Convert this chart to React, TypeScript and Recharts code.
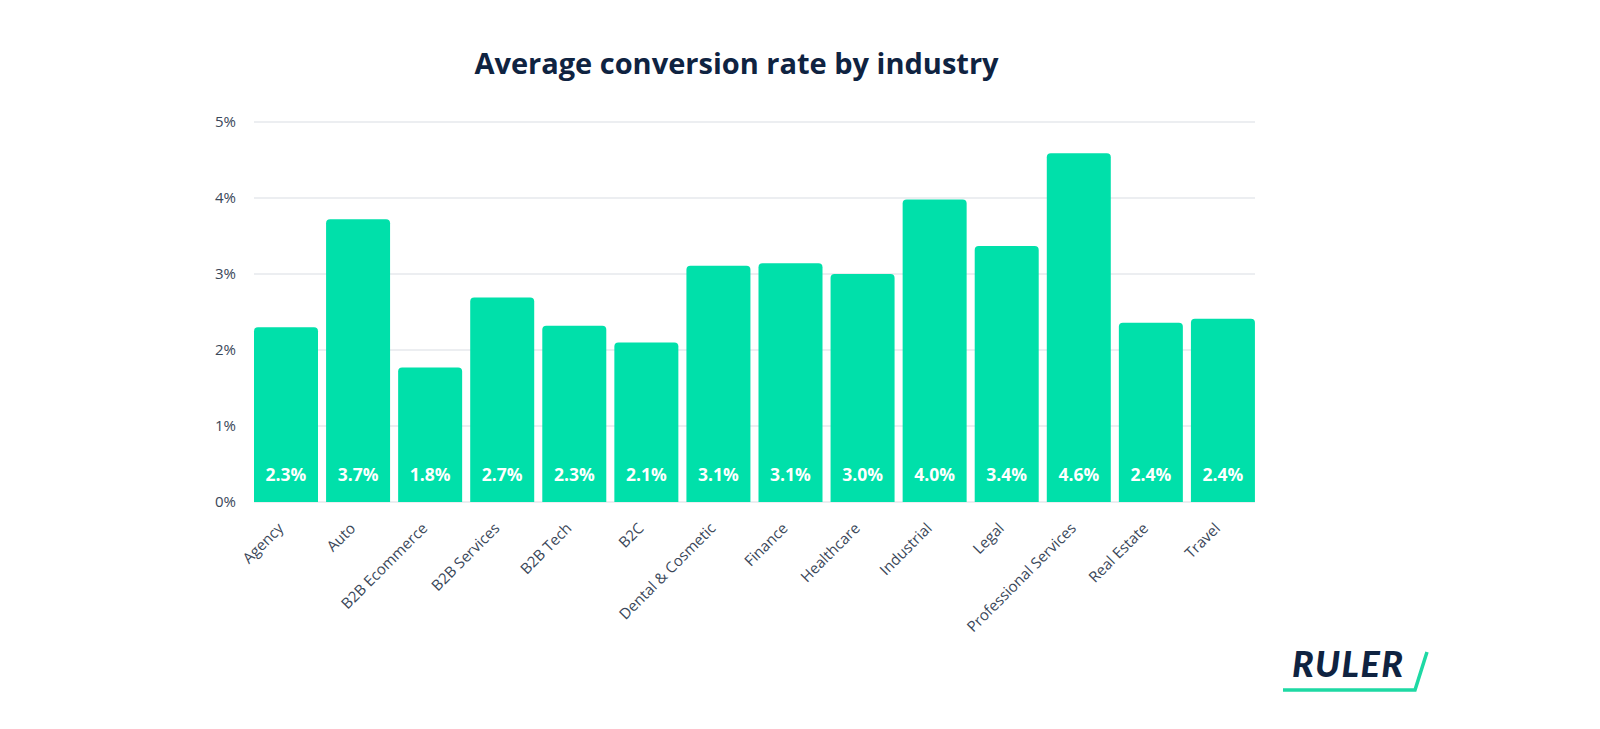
import React from 'react';
import { BarChart, Bar, XAxis, YAxis, CartesianGrid, LabelList } from 'recharts';

const industries = [
  'Agency',
  'Auto',
  'B2B Ecommerce',
  'B2B Services',
  'B2B Tech',
  'B2C',
  'Dental & Cosmetic',
  'Finance',
  'Healthcare',
  'Industrial',
  'Legal',
  'Professional Services',
  'Real Estate',
  'Travel',
];

// conversion rate in %
const rates = [2.3, 3.72, 1.77, 2.69, 2.32, 2.1, 3.11, 3.14, 3.0, 3.98, 3.37, 4.59, 2.36, 2.41];

const yTicks = [0, 1, 2, 3, 4, 5];

const data = industries.map((name, i) => ({ name, rate: rates[i] }));

const FONT = '"Open Sans", Lato, sans-serif';
const NAVY = '#0f2341';
const TICK = '#3a4759';
const GREEN = '#00e0aa';

// rotated category label, end of the text sits just under the bar
const AngledTick = (props: any) => {
  const { x, y, payload } = props;
  return (
    <g transform={`translate(${x - 6},${y + 15})`}>
      <text
        transform="rotate(-45)"
        textAnchor="end"
        dominantBaseline="central"
        fill={TICK}
        fontSize={15}
        fontFamily={FONT}
      >
        {payload.value}
      </text>
    </g>
  );
};

// value label near the bottom of each bar
const ValueLabel = (props: any) => {
  const { x, y, width, height, value } = props;
  return (
    <text
      x={x + width / 2}
      y={y + height - 28}
      textAnchor="middle"
      dominantBaseline="central"
      fill="#ffffff"
      fontSize={17.5}
      fontWeight={700}
      fontFamily={FONT}
    >
      {`${Number(value).toFixed(1)}%`}
    </text>
  );
};

export default function App() {
  return (
    <div style={{ position: 'absolute', top: 0, left: 0, width: 1600, height: 729, background: '#fff' }}>
      <div
        style={{
          position: 'absolute',
          left: 0,
          width: 1473,
          top: 43,
          textAlign: 'center',
          fontFamily: FONT,
          fontWeight: 700,
          fontSize: 29,
          color: NAVY,
          lineHeight: '40px',
        }}
      >
        Average conversion rate by industry
      </div>

      <BarChart
        width={1600}
        height={729}
        data={data}
        margin={{ top: 122, right: 345, left: 194, bottom: 77 }}
        barCategoryGap={4}
      >
        <CartesianGrid vertical={false} stroke="#e6e8ec" strokeWidth={1.5} />
        <XAxis
          dataKey="name"
          interval={0}
          height={150}
          tickLine={false}
          axisLine={false}
          padding={{ left: -4, right: -4 }}
          tick={<AngledTick />}
        />
        <YAxis
          width={60}
          domain={[0, 5]}
          ticks={yTicks}
          tickFormatter={(v: number) => `${v}%`}
          tickLine={false}
          axisLine={false}
          tickMargin={12}
          tick={{ fill: TICK, fontSize: 15, fontFamily: FONT }}
        />
        <Bar dataKey="rate" fill={GREEN} radius={[4, 4, 0, 0]} isAnimationActive={false}>
          <LabelList dataKey="rate" content={<ValueLabel />} />
        </Bar>
      </BarChart>

      {/* RULER logo */}
      <svg style={{ position: 'absolute', left: 1270, top: 630 }} width={180} height={70}>
        <text
          x={22}
          y={47}
          fontFamily='Lato, sans-serif'
          fontStyle="italic"
          fontWeight={900}
          fontSize={36}
          fill={NAVY}
          letterSpacing={1.5}
        >
          RULER
        </text>
        <polyline
          points="13,60 145,60 157,22"
          fill="none"
          stroke="#1ed9a4"
          strokeWidth={3.5}
          strokeLinejoin="miter"
        />
      </svg>
    </div>
  );
}
